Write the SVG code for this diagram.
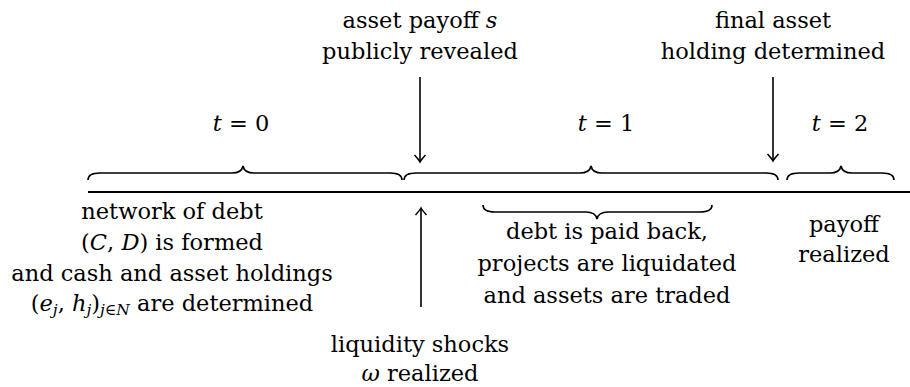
<svg xmlns="http://www.w3.org/2000/svg" width="910" height="387" viewBox="0 0 910 387">
<style>
text{font-family:'DejaVu Serif','Liberation Serif',serif;font-size:22.5px;fill:#000;text-anchor:middle}
.i{font-style:italic}
.sub{font-size:15.5px;font-style:italic}
.br{fill:none;stroke:#000;stroke-width:1.6}
.ar{fill:none;stroke:#000;stroke-width:1.6}
.axis{stroke:#000;stroke-width:2}
</style>
<defs>
<marker id="ah" markerUnits="userSpaceOnUse" markerWidth="16" markerHeight="16" viewBox="-8 -8 16 16" refX="0" refY="0" orient="auto">
<path d="M-7,-5.5 Q-2,-1 0,0 Q-2,1 -7,5.5" fill="none" stroke="#000" stroke-width="1.5"/>
</marker>
</defs>
<g id="timeline">
<line class="axis" x1="88" y1="192" x2="910" y2="192"/>
</g>
<g id="period-0">
<path class="br" d="M88,180 C88,175 92,173 100,173 L232,173 C238,173 242,171 243,166 C244,171 248,173 254,173 L390,173 C398,173 402,175 402,180"/>
<text x="241" y="131"><tspan class="i">t</tspan> = 0</text>
</g>
<g id="period-1">
<path class="br" d="M404,180 C404,175 408,173 416,173 L580,173 C586,173 590,171 591,166 C592,171 596,173 602,173 L766,173 C774,173 778,175 778,180"/>
<text x="606" y="131"><tspan class="i">t</tspan> = 1</text>
</g>
<g id="period-2">
<path class="br" d="M787,180 C787,175 791,173 799,173 L830,173 C836,173 840,171 841,166 C842,171 846,173 852,173 L882,173 C890,173 894,175 894,180"/>
<text x="840" y="131"><tspan class="i">t</tspan> = 2</text>
</g>
<g id="asset-payoff-revealed">
<text x="420" y="28">asset payoff <tspan class="i">s</tspan></text>
<text x="420" y="59">publicly revealed</text>
</g>
<g id="final-holding">
<text x="773" y="28">final asset</text>
<text x="773" y="59">holding determined</text>
</g>
<g id="network-formed">
<text x="172" y="219">network of debt</text>
<text x="172" y="250">(<tspan class="i">C</tspan>, <tspan class="i">D</tspan>) is formed</text>
<text x="172" y="281">and cash and asset holdings</text>
<text x="172" y="311">(<tspan class="i">e</tspan><tspan class="sub" dy="4">j</tspan><tspan dy="-4">, </tspan><tspan class="i">h</tspan><tspan class="sub" dy="4">j</tspan><tspan dy="-4">)</tspan><tspan class="sub" dy="4">j∈N</tspan><tspan dy="-4"> are determined</tspan></text>
</g>
<g id="debt-paid">
<path class="br" d="M483,205 C483,210 487,212 495,212 L586,212 C592,212 596,214 597,219 C598,214 602,212 608,212 L700,212 C708,212 712,210 712,205"/>
<text x="607" y="239">debt is paid back,</text>
<text x="607" y="271">projects are liquidated</text>
<text x="607" y="303">and assets are traded</text>
</g>
<g id="payoff-realized">
<text x="844" y="232">payoff</text>
<text x="844" y="262">realized</text>
</g>
<g id="liquidity-shocks">
<text x="420" y="352">liquidity shocks</text>
<text x="420" y="381"><tspan class="i">ω</tspan> realized</text>
</g>
<g id="connectors">
<line class="ar" x1="420" y1="77" x2="420" y2="162" marker-end="url(#ah)"/>
<line class="ar" x1="773" y1="77" x2="773" y2="161" marker-end="url(#ah)"/>
<line class="ar" x1="421" y1="307" x2="421" y2="208" marker-end="url(#ah)"/>
</g>
</svg>
